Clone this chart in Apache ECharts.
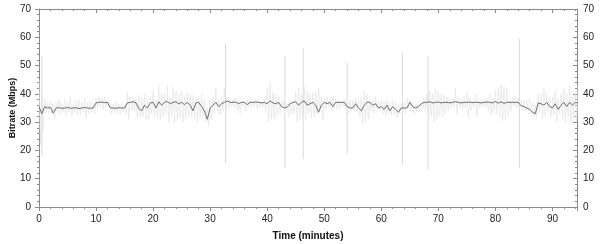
<!DOCTYPE html>
<html><head><meta charset="utf-8">
<script src="https://cdn.jsdelivr.net/npm/echarts@6/dist/echarts.min.js"></script>
<style>html,body{margin:0;padding:0;background:#fff}#c{width:600px;height:244px}</style>
</head><body><div id="c"></div>
<script>
// time step of sampled arrays (minutes)
const step = 0.5;
// smoothed bitrate (Mbps), one value per 0.5 min from t=0
const darkVals = [
35.5,33,35.5,35,35.2,33.2,35,35.1,34.9,35,35.2,34.9,35,35.1,34.8,35,35.2,35,34.9,35,
36.8,37,37.1,36.9,37,35,35,34.9,35.1,35,35,36.8,37,37.2,36.8,34.8,34,36,35,36.8,
37,35,37.2,36,37,37.3,36.5,37,37.2,36.5,37,36.2,37,36,34,36.8,37,35.5,34,31,
35,36,37,35.5,36.5,37,37.5,37,37,37.1,36.5,37,37,36.2,37,37,37.1,37,36.8,37,
36.5,37.5,36.8,36.5,37,35.5,35,35.3,36.5,37,37.2,36,37,37.5,36,36.5,37,36,33.5,36,
37,36.5,37,35.5,37,37,37,37,35.5,35,35,36.5,35,34,36,37,37,36,36.5,35,
35.5,34.5,36,34,35.5,34.5,33.5,35,35,35,37,35.5,35,35.5,36.5,37,37,37.2,36.8,37,
37.1,36.8,37,37,36.8,37,37.2,37,36.8,37,37,37.1,36.9,37,37,36.8,37,37.1,37,36.8,
37.3,36.7,37.2,36.6,37,37,37,37,37,35.8,35.5,35,34.5,33.5,33,36.8,36.5,36,37,35.5,
35,36.5,34.5,36,37,35.5,37,36,37,36.8
];
// instantaneous bitrate upper excursions, one per 0.5 min
const lightHi = [
45,40,38,37,37.5,36.5,37,38,36.5,38,37,39,36.5,37.5,38,37,38.5,37,37.5,37,
38.5,39,38.5,39,38,37,36.5,37.5,36.5,37,36.5,40.5,39,39,38.5,39.5,38.5,40,38,39,
41,38,43,40,40.5,43,39,42.5,41,40,41,39,40.5,40,39.5,38,39,40,38,35,
38,39,42,38,39,42,39,38.5,38,38.5,38,37.5,37,38,38,37.5,38,38,37.5,38,
42,44,40.5,40,39,38,37.5,36.5,36.5,37,41,42,40,42.5,41,40,40.5,41,42,39,
38.5,39,38,38.5,38,38,37.5,38,37,38,37.5,38.5,37.5,39,41,40,38,38,39,37.5,
38,37.5,38,37,37.5,37,36.5,36.5,37,38.5,38,37,36.5,36.5,37,38.5,40,41,40,41.5,
41,40,39.5,39,38.5,38.5,42,39,38.5,39,40.5,38.5,38,40,38.5,38,38,38.5,40,38.5,
41,42,43.5,42.5,42,38,38.5,39,38.5,38,38,38,38,37,36,40,40,42,40,38.5,
39,41,38,40,42,40,43,39,40.5,43
];
// instantaneous bitrate lower excursions, one per 0.5 min
const lightLo = [
22,27,33,33.5,33,31,33.5,33,33.5,32.5,33.5,32,33.5,33,32.5,33.5,31.5,33,33.5,33,
35,35.5,34.5,35,35.5,33,33.5,33,32.5,33.5,33,31,34,34,31.5,32,32,31,31,33,
32,31.5,31,32,33,30,32,29.5,31,31.5,30,31,32,32,31,30,31.5,32,30,28.5,
31,33,34,32.5,34,33,35,35.5,35,34,33,35.5,34,35.5,35,35.5,34.5,35,35.5,34,
30,31,31,32.5,33,35,35.5,32,33,33,30,31,32,31,33,31.5,32,33,34,31,
34,35,34,35,34.5,35,35.5,35,33,34,34,34,32,29.5,30,31,34,33,35,34,
33,32,33,32.5,32.5,31.5,33,33.5,33,35,34,33,33.5,34,34.5,34,32.5,32,30,31,
32,32,33,34,35,35.5,33,35,34.5,35,31.5,34,35,32,35,35.5,35,34,32.5,34,
33,32,30.5,31,32.5,34,35.5,35,35.5,34,34,33.5,33,32,31.5,33.5,31,32,33.5,32,
32.5,30,33,31,30,32,29.5,31,30,30
];
// isolated large spikes
const spikeT  = [0.5, 32.7, 43.1, 46.3, 54.0, 63.7, 68.2, 84.2];
const spikeHi = [53.5, 58, 53.5, 56.3, 51, 54.4, 53.4, 59.6];
const spikeLo = [18, 15.5, 13.8, 17, 18.7, 14.8, 13.1, 13.8];
// axes
const xMax = 94.3, yMax = 70;

const darkData = darkVals.map((v, i) => [i * step, v]);
const lightData = [];
lightHi.forEach((v, i) => { lightData.push([i * step, v]); lightData.push([i * step + step / 2, lightLo[i]]); });
const spikeData = [];
spikeT.forEach((t, i) => { spikeData.push([t, spikeHi[i]]); spikeData.push([t, spikeLo[i]]); spikeData.push([t, null]); });

const axisCol = '#8a8a8a';
const FF = 'Liberation Sans, Arial, sans-serif';
const lab = { color: '#222', fontSize: 10, fontFamily: FF };
const chart = echarts.init(document.getElementById('c'), null, { renderer: 'canvas' });
chart.setOption({
  animation: false,
  grid: { left: 39, right: 23, top: 9, bottom: 37, containLabel: false, outerBoundsMode: 'none' },
  xAxis: [{
    type: 'value', min: 0, max: xMax, interval: 10, position: 'bottom',
    name: 'Time (minutes)', nameLocation: 'middle', nameGap: 24, nameMoveOverlap: false,
    nameTextStyle: { fontWeight: 'bold', fontSize: 10, color: '#111', fontFamily: FF },
    axisLine: { show: true, onZero: false, lineStyle: { color: axisCol } },
    axisTick: { show: true, inside: false, length: 4, lineStyle: { color: axisCol } },
    minorTick: { show: true, splitNumber: 5, length: 2, lineStyle: { color: axisCol } },
    axisLabel: Object.assign({ margin: 7, showMaxLabel: false }, lab),
    splitLine: { show: false }
  }, {
    type: 'value', min: 0, max: xMax, interval: 10, position: 'top',
    axisLine: { show: true, onZero: false, lineStyle: { color: axisCol } },
    axisTick: { show: true, inside: true, length: 4, lineStyle: { color: axisCol } },
    minorTick: { show: true, splitNumber: 5, length: 2, lineStyle: { color: axisCol } },
    axisLabel: { show: false }, splitLine: { show: false }
  }],
  yAxis: [{
    type: 'value', min: 0, max: yMax, interval: 10, position: 'left',
    name: 'Bitrate (Mbps)', nameLocation: 'middle', nameGap: 22, nameMoveOverlap: false,
    nameTextStyle: { fontWeight: 'bold', fontSize: 9, color: '#111', fontFamily: FF },
    axisLine: { show: true, onZero: false, lineStyle: { color: axisCol } },
    axisTick: { show: true, inside: false, length: 4, lineStyle: { color: axisCol } },
    minorTick: { show: true, splitNumber: 5, length: 2, lineStyle: { color: axisCol } },
    axisLabel: Object.assign({ margin: 8 }, lab),
    splitLine: { show: false }
  }, {
    type: 'value', min: 0, max: yMax, interval: 10, position: 'right',
    axisLine: { show: true, onZero: false, lineStyle: { color: axisCol } },
    axisTick: { show: true, inside: true, length: 4, lineStyle: { color: axisCol } },
    minorTick: { show: true, splitNumber: 5, length: 2, lineStyle: { color: axisCol } },
    axisLabel: Object.assign({ margin: 6 }, lab),
    splitLine: { show: false }
  }],
  series: [{
    type: 'line', data: lightData, showSymbol: false, symbol: 'none', silent: true,
    lineStyle: { color: '#e4e4e4', width: 0.7 }, z: 1
  }, {
    type: 'line', data: spikeData, showSymbol: false, symbol: 'none', silent: true, connectNulls: false,
    lineStyle: { color: '#dadada', width: 1 }, z: 1
  }, {
    type: 'line', data: darkData, showSymbol: false, symbol: 'none', silent: true,
    lineStyle: { color: '#6e6e6e', width: 1 }, z: 2
  }]
});
</script>
</body></html>
